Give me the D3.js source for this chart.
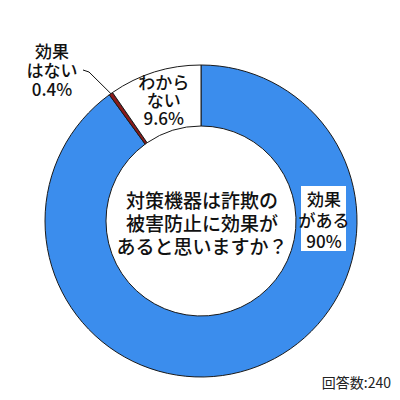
<!DOCTYPE html>
<html>
<head>
<meta charset="utf-8">
<script src="https://cdn.jsdelivr.net/npm/d3@7"></script>
<style>
  body { margin: 0; background: #fff; }
  svg { display: block; font-family: "Noto Sans CJK JP", "Noto Sans", sans-serif; font-weight: 500; }
</style>
</head>
<body>
<svg id="chart" width="400" height="400"></svg>
<script>
// Donut: 対策機器の効果
const categories = ["効果がある", "効果はない", "わからない"];
const values = [90, 0.4, 9.6];
const labelLines = [["効果", "がある", "90%"], ["効果", "はない", "0.4%"], ["わから", "ない", "9.6%"]];
const colors = ["#3b8ded", "#8b1a1a", "#ffffff"];
const question = ["対策機器は詐欺の", "被害防止に効果が", "あると思いますか？"];
const note = "回答数:240";

const svg = d3.select("#chart");
const cx = 201, cy = 221;
const outerR = 156, innerR = 95;

const pie = d3.pie().sort(null).value((d) => d)(values);
const arc = d3.arc().innerRadius(innerR).outerRadius(outerR);

const g = svg.append("g").attr("transform", `translate(${cx},${cy})`);

g.selectAll("path")
  .data(pie)
  .join("path")
  .attr("d", arc)
  .attr("fill", (d, i) => colors[i])
  .attr("stroke", "#1a1a1a")
  .attr("stroke-width", 1);

// center question
const q = g.append("text")
  .attr("text-anchor", "middle")
  .attr("font-size", 19)
  .attr("fill", "#111");
question.forEach((t, i) => {
  q.append("tspan").attr("x", 1).attr("y", -13 + i * 23).text(t);
});

// label: 効果がある (right side of ring)
const bigPos = d3.pointRadial(Math.PI / 2, 122);
const lg = g.append("g").attr("transform", `translate(${bigPos[0]},${bigPos[1]})`);
lg.append("rect")
  .attr("x", -22).attr("y", -35)
  .attr("width", 45).attr("height", 65)
  .attr("fill", "#fff");
const t0 = lg.append("text").attr("text-anchor", "middle").attr("font-size", 17).attr("fill", "#111");
labelLines[0].forEach((t, i) => {
  t0.append("tspan").attr("x", 1).attr("y", -15 + i * 21).text(t);
});

// label: わからない (slice centroid)
const c2 = arc.centroid(pie[2]);
const t2 = g.append("text").attr("text-anchor", "middle").attr("font-size", 17).attr("fill", "#111");
labelLines[2].forEach((t, i) => {
  t2.append("tspan").attr("x", c2[0]).attr("y", c2[1] - 12 + i * 18).text(t);
});

// label: 効果はない (outside with leader)
const a1 = (pie[1].startAngle + pie[1].endAngle) / 2;
const edge = d3.pointRadial(a1, outerR);
const lx = 52 - cx, ly = 70 - cy;
g.append("path")
  .attr("d", `M${lx + 31},${ly}L${lx + 37},${ly + 2}L${edge[0]},${edge[1]}`)
  .attr("fill", "none")
  .attr("stroke", "#111")
  .attr("stroke-width", 1);
const t1 = g.append("text").attr("text-anchor", "middle").attr("font-size", 17).attr("fill", "#111");
labelLines[1].forEach((t, i) => {
  t1.append("tspan").attr("x", lx).attr("y", ly - 12 + i * 19).text(t);
});

svg.append("text")
  .attr("x", 391).attr("y", 388)
  .attr("text-anchor", "end")
  .attr("font-size", 14)
  .attr("font-weight", 400)
  .attr("fill", "#222")
  .text(note);
</script>
</body>
</html>
